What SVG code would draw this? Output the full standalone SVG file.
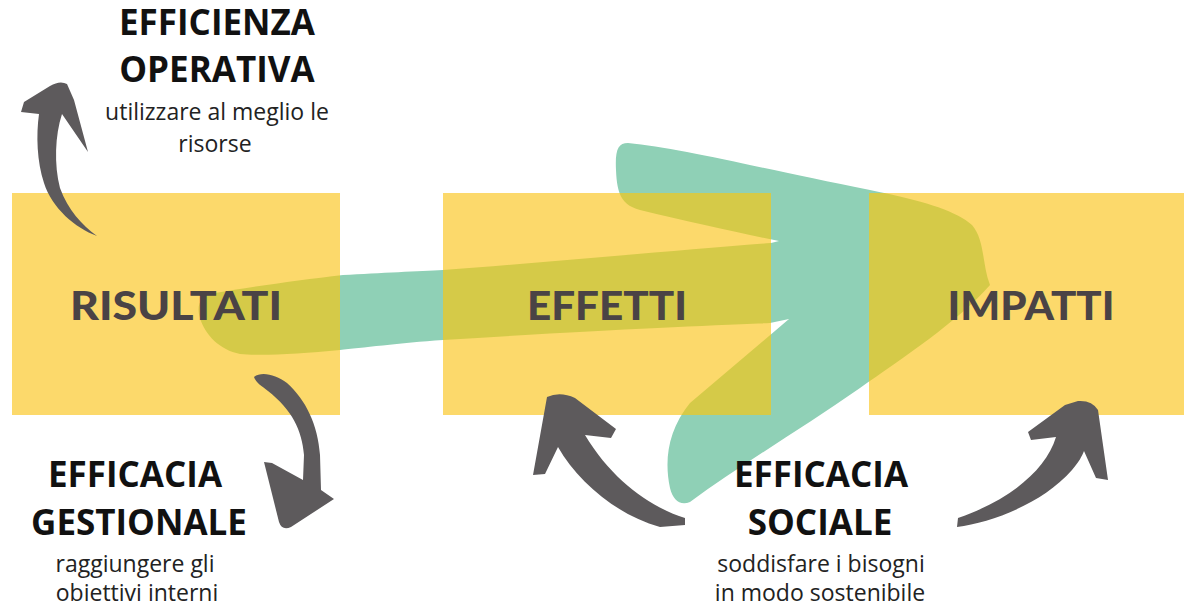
<svg xmlns="http://www.w3.org/2000/svg" width="1184" height="608" viewBox="0 0 1184 608">
<style>
.box{fill:#fcd96b}
.boxlbl{font-family:Lato,"Open Sans",sans-serif;font-weight:900;font-size:39px;fill:#4a4345;text-anchor:middle}
.ttl{font-family:"Open Sans",sans-serif;font-weight:700;font-size:35px;fill:#111;text-anchor:middle}
.sub{font-family:"Open Sans",sans-serif;font-weight:400;font-size:23px;fill:#222;text-anchor:middle}
.garr{fill:#5d5a5c}
</style>
<defs>
<path id="gshape" d="M 628 143 C 680 148 760 168 870 190 C 920 200 955 210 972 225 C 985 240 982 265 990 285 C 960 320 900 360 860 388 C 800 430 740 465 690 502 C 680 506 673 500 670 488 C 664 460 668 430 690 403 L 789 319 L 770 323 C 700 326 600 330 443 340 C 400 343 360 348 340 350 C 300 354 260 356 240 354 C 220 350 205 335 200 318 C 196 305 200 296 215 293 C 250 287 300 280 343 275 C 380 273 420 271 443 270 C 550 262 680 250 771 243 L 779 241 C 740 233 690 222 640 210 C 622 205 617 195 616 170 C 615 150 618 143 628 143 Z"/>
<clipPath id="boxclip">
<rect x="12" y="193" width="328" height="222"/>
<rect x="443" y="193" width="328" height="222"/>
<rect x="869" y="193" width="315" height="222"/>
</clipPath>
</defs>
<g id="flow">
<use href="#gshape" fill="#8fd0b6"/>
</g>
<g id="risultati">
<rect class="box" x="12" y="193" width="328" height="222"/>
</g>
<g id="effetti">
<rect class="box" x="443" y="193" width="328" height="222"/>
</g>
<g id="impatti">
<rect class="box" x="869" y="193" width="315" height="222"/>
</g>
<g id="flow-overlap">
<use href="#gshape" fill="#d5ca48" clip-path="url(#boxclip)"/>
</g>
<g id="box-labels">
<text class="boxlbl" x="176" y="320" textLength="212" lengthAdjust="spacingAndGlyphs">RISULTATI</text>
<text class="boxlbl" x="607" y="320" textLength="160" lengthAdjust="spacingAndGlyphs">EFFETTI</text>
<text class="boxlbl" x="1031" y="320" textLength="167" lengthAdjust="spacingAndGlyphs">IMPATTI</text>
</g>
<g id="efficienza-operativa">
<text class="ttl" x="217" y="35">EFFICIENZA</text>
<text class="ttl" x="217" y="82">OPERATIVA</text>
<text class="sub" x="217" y="120">utilizzare al meglio le</text>
<text class="sub" x="215" y="152">risorse</text>
</g>
<g id="efficacia-gestionale">
<text class="ttl" x="135" y="487">EFFICACIA</text>
<text class="ttl" x="139" y="535">GESTIONALE</text>
<text class="sub" x="135" y="572">raggiungere gli</text>
<text class="sub" x="137" y="601">obiettivi interni</text>
</g>
<g id="efficacia-sociale">
<text class="ttl" x="821" y="487">EFFICACIA</text>
<text class="ttl" x="820" y="535">SOCIALE</text>
<text class="sub" x="821" y="572">soddisfare i bisogni</text>
<text class="sub" x="820" y="601">in modo sostenibile</text>
</g>
<g id="connectors">
<path class="garr" d="M 97 236 C 75 228 52 208 44 183 C 37 162 36 135 39 114 L 21 112 L 24 102 L 50 86 Q 60 80 67 84 L 74 100 L 88 152 L 62 114 C 55 135 54 165 60 188 C 68 210 82 225 97 236 Z"/>
<path class="garr" d="M 254 377 C 262 371 276 375 287 383 C 306 400 318 425 320 455 L 321 490 L 334 499 L 291 527 Q 282 531 279 522 L 264 462 L 272 463 L 303 480 L 304 455 C 302 430 292 410 268 391 C 262 386 256 383 254 377 Z"/>
<path class="garr" d="M 685 518 C 650 507 612 480 585 435 L 611 438 L 616 429 L 575 398 Q 560 391 547 397 L 533 475 L 545 474 L 558 447 C 578 482 617 515 660 527 L 685 525 Z"/>
<path class="garr" d="M 957 527 C 992 522 1042 504 1072 470 C 1079 462 1082 456 1084 451 L 1096 478 L 1108 480 L 1098 410 Q 1092 400 1078 401 L 1065 405 L 1028 432 L 1031 440 L 1056 437 C 1046 470 1010 500 958 518 Z"/>
</g>
</svg>
